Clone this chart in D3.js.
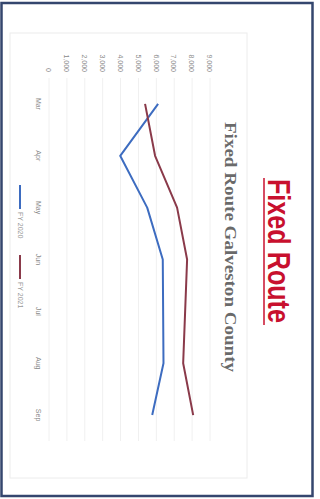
<!DOCTYPE html>
<html>
<head>
<meta charset="utf-8">
<script src="https://cdn.jsdelivr.net/npm/d3@7"></script>
<style>
  body { margin: 0; background: #fff; }
</style>
</head>
<body>
<div id="chart"></div>
<script>
// data
var months = ['Mar', 'Apr', 'May', 'Jun', 'Jul', 'Aug', 'Sep'];
var seriesNames = ['FY 2020', 'FY 2021'];
var fy2020 = [6100, 3980, 5490, 6360, 6380, 6400, 5770];
var fy2021 = [5370, 5930, 7160, 7720, 7610, 7500, 8060];
var yTicks = [0, 1000, 2000, 3000, 4000, 5000, 6000, 7000, 8000, 9000];
var pageTitle = 'Fixed Route';
var chartTitle = 'Fixed Route Galveston County';

var seriesColors = ['#3d6cc0', '#8a3a4a'];

const W = 320, H = 499;

var svg = d3.select('#chart').append('svg')
  .attr('width', W)
  .attr('height', H);

svg.append('rect')
  .attr('width', W).attr('height', H)
  .attr('fill', '#fff');

// dark page frame of the scan
svg.append('rect')
  .attr('x', 1.5).attr('y', 3)
  .attr('width', 311).attr('height', 493)
  .attr('fill', 'none')
  .attr('stroke', '#34466e')
  .attr('stroke-width', 2.5);

// the page is turned on its side, so draw it upright and rotate 90deg clockwise
// inside this group: u runs down the image, v runs right-to-left
var page = svg.append('g')
  .attr('transform', 'translate(' + W + ',0) rotate(90)');

// chart area box (very faint)
page.append('rect')
  .attr('x', 33).attr('y', 73)
  .attr('width', 445).attr('height', 237)
  .attr('fill', 'none')
  .attr('stroke', '#ececec')
  .attr('stroke-width', 1);

// scales
var x = d3.scaleBand()
  .domain(months)
  .range([78, 441])
  .padding(0);

var y = d3.scaleLinear()
  .domain([0, 9000])
  .range([271, 110]);

var xc = function(m) { return x(m) + x.bandwidth() / 2; };

// gridlines
page.append('g')
  .selectAll('line')
  .data(yTicks)
  .join('line')
  .attr('x1', 78).attr('x2', 441)
  .attr('y1', function(d) { return y(d); })
  .attr('y2', function(d) { return y(d); })
  .attr('stroke', '#f0f0f0')
  .attr('stroke-width', 1);

// y axis labels
var yAxis = page.append('g')
  .attr('transform', 'translate(74,0)')
  .call(d3.axisLeft(y).tickValues(yTicks).tickFormat(d3.format(',')).tickSize(0));
yAxis.select('.domain').remove();
yAxis.selectAll('text')
  .attr('x', -2)
  .style('font-family', 'Liberation Sans, Arial, sans-serif')
  .style('font-size', '7px')
  .attr('fill', '#8a8a8a');

// month labels
var xAxis = page.append('g')
  .attr('transform', 'translate(0,276)')
  .call(d3.axisBottom(x).tickSize(0));
xAxis.select('.domain').remove();
xAxis.selectAll('text')
  .style('font-family', 'Liberation Sans, Arial, sans-serif')
  .style('font-size', '7px')
  .attr('fill', '#8a8a8a');

// lines
var series = [fy2020, fy2021];
var line = d3.line()
  .x(function(d, i) { return xc(months[i]); })
  .y(function(d) { return y(d); });

page.append('g')
  .selectAll('path')
  .data(series)
  .join('path')
  .attr('d', line)
  .attr('fill', 'none')
  .attr('stroke', function(d, i) { return seriesColors[i]; })
  .attr('stroke-width', 2)
  .attr('stroke-linejoin', 'round');

// legend
var legendPos = [185, 255];
var lg = page.append('g').selectAll('g')
  .data(seriesNames)
  .join('g')
  .attr('transform', function(d, i) { return 'translate(' + legendPos[i] + ',300)'; });
lg.append('line')
  .attr('x1', 0).attr('x2', 24)
  .attr('stroke', function(d, i) { return seriesColors[i]; })
  .attr('stroke-width', 2);
lg.append('text')
  .attr('x', 27).attr('y', 2.5)
  .style('font-family', 'Liberation Sans, Arial, sans-serif')
  .style('font-size', '7px')
  .attr('fill', '#9a9a9a')
  .text(function(d) { return d; });

// chart title
page.append('text')
  .attr('x', 122).attr('y', 95)
  .attr('textLength', 250)
  .attr('lengthAdjust', 'spacingAndGlyphs')
  .style('font-family', 'Liberation Serif, DejaVu Serif, serif')
  .style('font-weight', 'bold')
  .style('font-size', '16px')
  .attr('fill', '#6a6a6a')
  .text(chartTitle);

// page heading, red + underlined
page.append('text')
  .attr('x', 179).attr('y', 52)
  .attr('textLength', 144)
  .attr('lengthAdjust', 'spacingAndGlyphs')
  .style('font-family', 'Liberation Sans, Arial, sans-serif')
  .style('font-weight', 'bold')
  .style('font-size', '31px')
  .attr('fill', '#c8102e')
  .text(pageTitle);

page.append('line')
  .attr('x1', 178).attr('x2', 325)
  .attr('y1', 56).attr('y2', 56)
  .attr('stroke', '#c8102e')
  .attr('stroke-width', 1.5);
</script>
</body>
</html>
